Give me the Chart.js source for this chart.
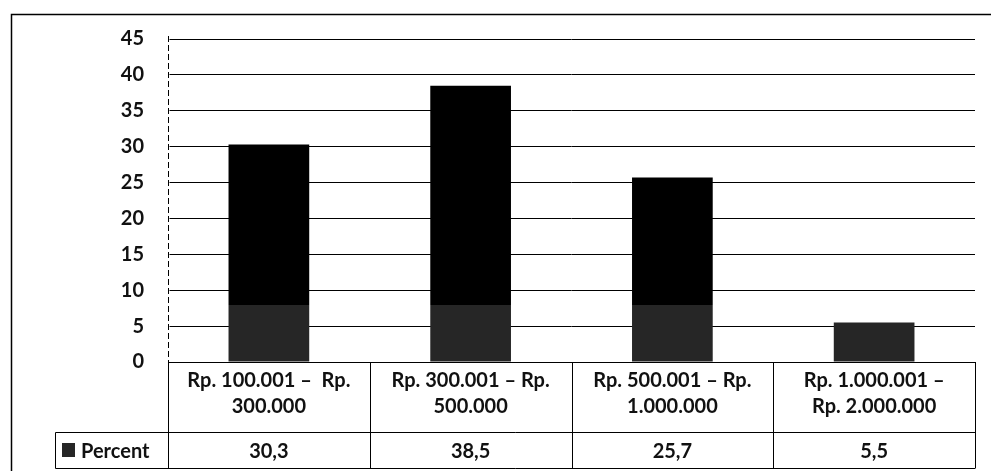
<!DOCTYPE html>
<html>
<head>
<meta charset="utf-8">
<script src="https://cdn.jsdelivr.net/npm/chart.js@4.4.1/dist/chart.umd.min.js"></script>
<style>
  html, body { margin: 0; padding: 0; background: #fff; }
  #wrap { width: 991px; height: 471px; }
</style>
</head>
<body>
<div id="wrap"><canvas id="chart" width="991" height="471"></canvas></div>
<script>
const categories = [
    ["Rp. 100.001 \u2013  Rp.", "300.000"],
    ["Rp. 300.001 \u2013 Rp.", "500.000"],
    ["Rp. 500.001 \u2013 Rp.", "1.000.000"],
    ["Rp. 1.000.001 \u2013", "Rp. 2.000.000"]
];
const seriesName = "Percent";
const percent = [30.3, 38.5, 25.7, 5.5];
const yTicks = [0, 5, 10, 15, 20, 25, 30, 35, 40, 45];

const FONT = "Lato, 'Open Sans', sans-serif";

// dark grey lower part of bars (as in the scan)
function barFill(context) {
    const chart = context.chart;
    const { ctx, chartArea, scales } = chart;
    if (!chartArea) return '#000';
    const yCut = scales.y.getPixelForValue(8);
    const g = ctx.createLinearGradient(0, chartArea.top, 0, chartArea.bottom);
    const t = (yCut - chartArea.top) / (chartArea.bottom - chartArea.top);
    g.addColorStop(0, '#000');
    g.addColorStop(t, '#000');
    g.addColorStop(t, '#262626');
    g.addColorStop(1, '#262626');
    return g;
}

const dataTable = {
    id: 'dataTable',
    beforeDraw(chart) {
        const { ctx } = chart;
        ctx.save();
        ctx.strokeStyle = '#000';
        ctx.lineWidth = 1.5;
        ctx.beginPath();
        ctx.moveTo(11.5, 471);
        ctx.lineTo(11.5, 14.5);
        ctx.lineTo(991, 14.5);
        ctx.stroke();
        ctx.restore();
    },
    afterDatasetsDraw(chart) {
        // dashed left axis line
        const { ctx, chartArea: { left, top, bottom } } = chart;
        ctx.save();
        ctx.strokeStyle = '#fff';
        ctx.lineWidth = 2;
        ctx.beginPath();
        ctx.moveTo(left + 0.5, top - 10); ctx.lineTo(left + 0.5, bottom);
        ctx.stroke();
        ctx.strokeStyle = '#000';
        ctx.lineWidth = 1;
        ctx.setLineDash([6, 3]);
        ctx.beginPath();
        ctx.moveTo(left + 0.5, top - 3); ctx.lineTo(left + 0.5, bottom);
        ctx.stroke();
        ctx.restore();
    },
    afterDraw(chart) {
        const { ctx, chartArea: { left, right, bottom }, scales: { x } } = chart;
        const rowTop = 432.5, rowBottom = 468.5, legendLeft = 55.5;
        ctx.save();
        ctx.strokeStyle = '#000';
        ctx.lineWidth = 1;
        ctx.beginPath();
        ctx.moveTo(legendLeft, rowTop); ctx.lineTo(right, rowTop);
        ctx.moveTo(legendLeft, rowBottom); ctx.lineTo(right, rowBottom);
        ctx.moveTo(legendLeft, rowTop); ctx.lineTo(legendLeft, rowBottom);
        const n = percent.length;
        for (let i = 0; i <= n; i++) {
            let px;
            if (i === 0) px = left;
            else if (i === n) px = right;
            else px = (x.getPixelForValue(i - 1) + x.getPixelForValue(i)) / 2;
            px = Math.round(px) + 0.5;
            ctx.moveTo(px, bottom); ctx.lineTo(px, rowBottom);
        }
        ctx.stroke();

        // legend key
        ctx.fillStyle = '#262626';
        ctx.fillRect(62, 443, 13, 14);
        ctx.font = 'bold 20px ' + FONT;
        ctx.fillStyle = '#111';
        ctx.textBaseline = 'middle';
        ctx.textAlign = 'left';
        ctx.fillText(seriesName, 81, (rowTop + rowBottom) / 2 + 1);

        ctx.textAlign = 'center';
        percent.forEach((v, i) => {
            ctx.fillText(v.toFixed(1).replace('.', ','), x.getPixelForValue(i), (rowTop + rowBottom) / 2 + 1);
        });
        ctx.restore();
    }
};

const config = {
    type: 'bar',
    data: {
        labels: categories,
        datasets: [{
            label: seriesName,
            data: percent,
            backgroundColor: barFill,
            borderWidth: 0,
            barPercentage: 0.4,
            categoryPercentage: 1.0
        }]
    },
    options: {
        responsive: false,
        animation: false,
        layout: { padding: { top: 39, right: 16, bottom: 0, left: 0 } },
        plugins: {
            legend: { display: false },
            tooltip: { enabled: false }
        },
        scales: {
            x: {
                grid: { display: false, drawTicks: false },
                border: { display: true, color: '#000', width: 1 },
                ticks: {
                    color: '#111',
                    font: { family: FONT, size: 20, weight: 'bold', lineHeight: 1.3 },
                    padding: 6,
                    maxRotation: 0,
                    autoSkip: false
                },
                afterFit(s) { s.height = 109; }
            },
            y: {
                min: 0,
                max: 45,
                afterBuildTicks(s) { s.ticks = yTicks.map(v => ({ value: v })); },
                grid: { color: '#000', lineWidth: 1, drawTicks: false },
                border: { display: false },
                ticks: {
                    color: '#111',
                    font: { family: FONT, size: 20, weight: 'bold' },
                    padding: 24
                },
                afterFit(s) { s.width = 168; }
            }
        }
    },
    plugins: [dataTable]
};

const myChart = new Chart('chart', config);
</script>
</body>
</html>
